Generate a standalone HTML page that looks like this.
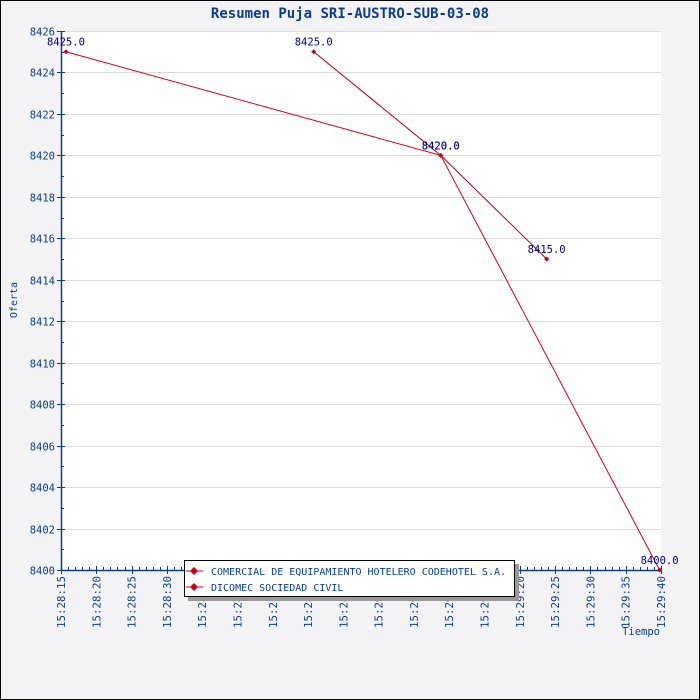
<!DOCTYPE html>
<html><head><meta charset="utf-8"><style>
body{margin:0;background:#fff}
svg{display:block;font-family:"DejaVu Sans Mono","Liberation Mono",monospace}
</style></head><body>
<svg id="c" width="700" height="700" xmlns="http://www.w3.org/2000/svg">
<rect x="0.5" y="0.5" width="699" height="699" fill="#f3f3f5" stroke="#000"/>
<text x="350" y="18" text-anchor="middle" font-size="14" font-weight="bold" fill="#0a3d8f">Resumen Puja SRI-AUSTRO-SUB-03-08</text>
<rect x="61" y="31" width="600" height="539" fill="#fff"/>
<g id="grid"></g><g id="axes"></g><g id="series"></g>
<text transform="translate(17,300) rotate(-90)" text-anchor="middle" font-size="10" fill="#0a3d8f">Oferta</text>
<text x="660" y="635" text-anchor="end" font-size="10.5" fill="#0a3d8f">Tiempo</text>
<g>
<rect x="188" y="564" width="331" height="37" fill="#999"/>
<rect x="184.5" y="560.5" width="330" height="36" fill="#fff" stroke="#000"/>
<line x1="186" y1="571" x2="203" y2="571" stroke="#c8001e" stroke-width="1"/>
<path d="M194 567l4 4-4 4-4-4z" fill="#c8001e"/>
<text x="211" y="575" font-size="10" fill="#0a3d8f">COMERCIAL DE EQUIPAMIENTO HOTELERO CODEHOTEL S.A.</text>
<line x1="186" y1="587" x2="203" y2="587" stroke="#c8001e" stroke-width="1"/>
<path d="M194 583l4 4-4 4-4-4z" fill="#c8001e"/>
<text x="211" y="591" font-size="10" fill="#0a3d8f">DICOMEC SOCIEDAD CIVIL</text>
</g>
</svg>
<script>
const yTicks=[8400,8402,8404,8406,8408,8410,8412,8414,8416,8418,8420,8422,8424,8426];
const xTickLabels=["15:28:15","15:28:20","15:28:25","15:28:30","15:28:35","15:28:40","15:28:45","15:28:50","15:28:55","15:29:00","15:29:05","15:29:10","15:29:15","15:29:20","15:29:25","15:29:30","15:29:35","15:29:40"];
// seconds after 15:28:15
const s1Times=[35.8,53.8,68.8];
const s1Values=[8425,8420,8415];
const s2Times=[0.7,53.8,84.8];
const s2Values=[8425,8420,8400];
const NS="http://www.w3.org/2000/svg";
const X0=61,X1=661,Y0=570,Y1=31,TMAX=85,VMIN=8400,VMAX=8426;
const xs=t=>X0+(t/TMAX)*(X1-X0);
const ys=v=>Y0-(v-VMIN)/(VMAX-VMIN)*(Y0-Y1);
function mk(tag,attrs,parent,txt){const e=document.createElementNS(NS,tag);for(const k in attrs)e.setAttribute(k,attrs[k]);if(txt!==undefined)e.textContent=txt;parent.appendChild(e);return e;}
const grid=document.getElementById('grid'),axes=document.getElementById('axes'),ser=document.getElementById('series');
yTicks.forEach(v=>{const y=Math.round(ys(v))+0.5;
 if(v>VMIN){const g=mk('line',{x1:X0,x2:X1,y1:y,y2:y,stroke:'#dcdcdc'},grid);
 
 }
 mk('line',{x1:X0-4,x2:X0+4,y1:y,y2:y,stroke:'#0a3d8f'},axes);
 const t=mk('text',{x:X0-6,y:y+4,'text-anchor':'end','font-size':10.5,fill:'#0a3d8f'},axes,String(v));
 
 
 if(v<VMAX){const ym=Math.round(ys(v+1))+0.5;mk('line',{x1:X0,x2:X0+3,y1:ym,y2:ym,stroke:'#0a3d8f'},axes);}
});
for(let s=0;s<=TMAX;s++){const x=Math.round(xs(s))+0.5;const major=s%5===0;
 mk('line',{x1:x,x2:x,y1:Y0-(major?4:3),y2:Y0+(major?4:0),stroke:'#0a3d8f'},axes);}
xTickLabels.forEach((l,i)=>{const x=xs(i*5);
 const t=mk('text',{transform:`translate(${x+4},${Y0+6}) rotate(-90)`,'text-anchor':'end','font-size':10.8,fill:'#0a3d8f'},axes,l);
 
 });
mk('line',{x1:X0+0.5,x2:X0+0.5,y1:Y1,y2:Y0,stroke:'#0a3d8f','stroke-width':1.5},axes);
mk('line',{x1:X0,x2:X1,y1:Y0+0.5,y2:Y0+0.5,stroke:'#0a3d8f','stroke-width':1.5},axes);
function drawSeries(times,vals,color,name){
 const pts=times.map((t,i)=>xs(t)+','+ys(vals[i])).join(' ');
 const pl=mk('polyline',{points:pts,fill:'none',stroke:color,'stroke-width':1},ser);
 
 
 times.forEach((t,i)=>{const x=xs(t),y=ys(vals[i]);
  const m=mk('path',{d:`M${x} ${y-2.5}l2.5 2.5-2.5 2.5-2.5-2.5z`,fill:color},ser);
  
  
  const lb=mk('text',{x:x,y:y-6,'text-anchor':'middle','font-size':10.5,fill:'#000080'},ser,vals[i].toFixed(1));
  
  });
}
drawSeries(s1Times,s1Values,'#b0001a','comercial');
drawSeries(s2Times,s2Values,'#d0001e','dicomec');
</script>
</body></html>
